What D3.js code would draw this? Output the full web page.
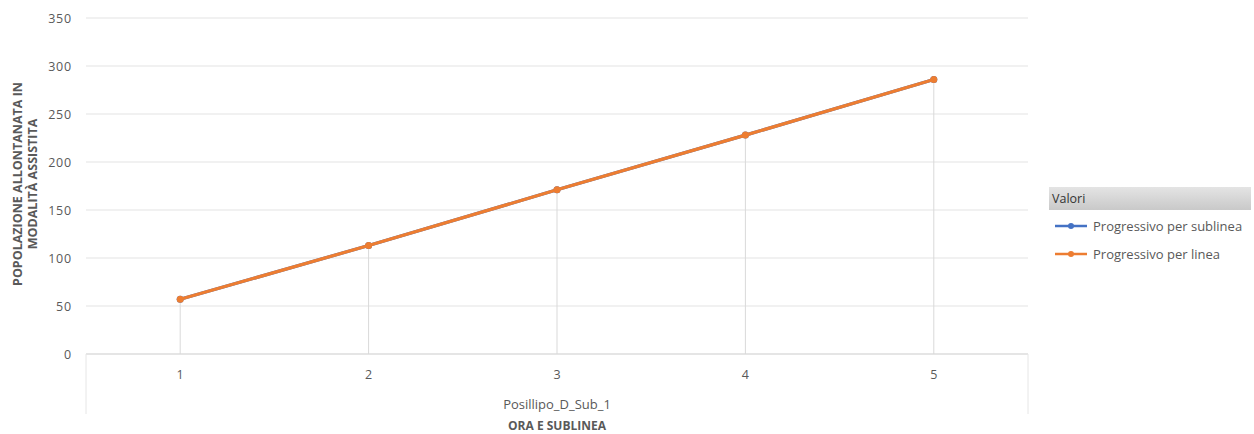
<!DOCTYPE html>
<html><head><meta charset="utf-8">
<script src="https://cdn.jsdelivr.net/npm/d3@7"></script>
<style>body{margin:0;background:#fff}svg{display:block;font-family:"Open Sans","Liberation Sans",sans-serif}</style>
</head><body><svg id="c" width="1254" height="434"></svg>
<script>
const categories = ["1","2","3","4","5"];
const seriesNames = ["Progressivo per sublinea","Progressivo per linea"];
const sublineaValues = [57,113,171,228,286];
const lineaValues = [57,113,171,228,286];
const yTicks = [0,50,100,150,200,250,300,350];
const colors = ["#4472C4","#ED7D31"];
const groupLabel = "Posillipo_D_Sub_1";
const xTitle = "ORA E SUBLINEA";
const yTitle = ["POPOLAZIONE ALLONTANATA IN","MODALITÀ ASSISTITA"];

const svg = d3.select("#c");
const L=86, R=1028, T=18, B=354;
const x = d3.scaleBand().domain(categories).range([L,R]);
const y = d3.scaleLinear().domain([0,350]).range([B,T]);

svg.append("g").selectAll("line").data(yTicks).join("line")
  .attr("x1",L).attr("x2",R).attr("y1",d=>y(d)).attr("y2",d=>y(d))
  .attr("stroke","#e3e3e3").attr("stroke-width",1);
svg.append("g").selectAll("text").data(yTicks).join("text")
  .attr("x",72).attr("y",d=>y(d)+4.5).attr("text-anchor","end").attr("letter-spacing",0.8)
  .attr("font-size",12.5).attr("fill","#595959").text(d=>d);
svg.append("g").selectAll("line").data(lineaValues).join("line")
  .attr("x1",(d,i)=>x(categories[i])+x.bandwidth()/2).attr("x2",(d,i)=>x(categories[i])+x.bandwidth()/2)
  .attr("y1",d=>y(d)).attr("y2",B).attr("stroke","#d9d9d9");
svg.append("line").attr("x1",L).attr("x2",R).attr("y1",B).attr("y2",B).attr("stroke","#d9d9d9");
svg.append("line").attr("x1",L).attr("x2",L).attr("y1",B).attr("y2",414).attr("stroke","#e6e6e6");
svg.append("line").attr("x1",R).attr("x2",R).attr("y1",B).attr("y2",414).attr("stroke","#e6e6e6");
svg.append("g").selectAll("text").data(categories).join("text")
  .attr("x",d=>x(d)+x.bandwidth()/2).attr("y",379).attr("text-anchor","middle")
  .attr("font-size",12.5).attr("fill","#595959").text(d=>d);
svg.append("text").attr("x",(L+R)/2).attr("y",409).attr("text-anchor","middle")
  .attr("font-size",13).attr("fill","#595959").text(groupLabel);
svg.append("text").attr("x",(L+R)/2).attr("y",430).attr("text-anchor","middle")
  .attr("font-size",12).attr("font-weight","bold").attr("fill","#595959").text(xTitle);
const yt = svg.append("text").attr("transform","translate(22,184) rotate(-90)")
  .attr("text-anchor","middle").attr("font-size",12.5).attr("font-weight","bold").attr("fill","#595959");
yt.append("tspan").attr("x",0).attr("dy",0).text(yTitle[0]);
yt.append("tspan").attr("x",0).attr("dy",15).text(yTitle[1]);

const line = d3.line().x((d,i)=>x(categories[i])+x.bandwidth()/2).y(d=>y(d));
[sublineaValues,lineaValues].forEach((vals,s)=>{
  svg.append("path").datum(vals).attr("d",line).attr("fill","none")
    .attr("stroke",colors[s]).attr("stroke-width",3.2).attr("stroke-linecap","round");
  svg.append("g").selectAll("circle").data(vals).join("circle")
    .attr("cx",(d,i)=>x(categories[i])+x.bandwidth()/2).attr("cy",d=>y(d)).attr("r",3.5).attr("fill",colors[s]);
});

const defs = svg.append("defs");
const g = defs.append("linearGradient").attr("id","lg").attr("x1",0).attr("y1",0).attr("x2",0).attr("y2",1);
g.append("stop").attr("offset","0%").attr("stop-color","#e4e4e4");
g.append("stop").attr("offset","100%").attr("stop-color","#c9c9c9");
svg.append("rect").attr("x",1049).attr("y",187).attr("width",202).attr("height",23).attr("fill","url(#lg)");
svg.append("text").attr("x",1052).attr("y",203).attr("font-size",12.5).attr("fill","#333").text("Valori");
seriesNames.forEach((n,i)=>{
  const yy = 226 + i*28;
  svg.append("line").attr("x1",1055).attr("x2",1087).attr("y1",yy).attr("y2",yy).attr("stroke",colors[i]).attr("stroke-width",2.5);
  svg.append("circle").attr("cx",1071).attr("cy",yy).attr("r",3).attr("fill",colors[i]);
  svg.append("text").attr("x",1093).attr("y",yy+4.5).attr("font-size",13).attr("fill","#595959").text(n);
});
</script></body></html>
